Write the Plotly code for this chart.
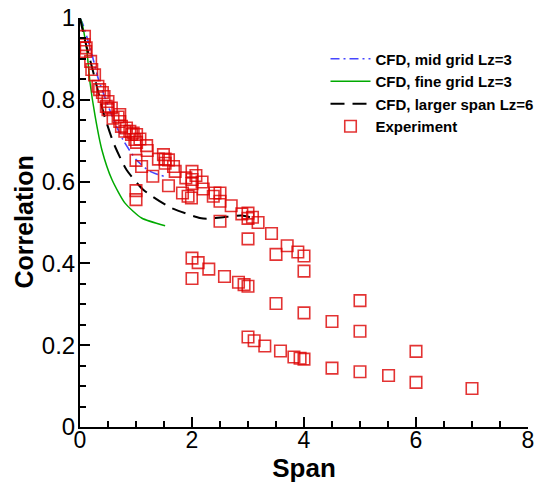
import plotly.graph_objects as go

# CFD, mid grid Lz=3
mid_x = [0.0, 0.05, 0.2, 0.33, 0.6, 0.77, 1.0, 1.25, 1.5]
mid_y = [1.0, 0.985, 0.918, 0.85, 0.751, 0.702, 0.654, 0.625, 0.613]

# CFD, fine grid Lz=3
fine_x = [0.0, 0.03, 0.12, 0.18, 0.27, 0.39, 0.57, 0.8, 1.1, 1.52]
fine_y = [1.0, 0.99, 0.922, 0.841, 0.76, 0.678, 0.605, 0.548, 0.511, 0.492]

# CFD, larger span Lz=6
large_x = [0.0, 0.08, 0.18, 0.3, 0.42, 0.6, 0.83, 1.13, 1.61, 2.14, 2.26, 2.56, 2.89, 3.09]
large_y = [1.0, 0.95, 0.898, 0.833, 0.768, 0.694, 0.629, 0.58, 0.537, 0.511, 0.509, 0.513, 0.517, 0.511]

# Experiment
exp_x = [0.08, 0.07, 0.11, 0.10, 0.19, 0.21, 0.26, 0.32, 0.35, 0.40, 0.43,
         0.50, 0.47, 0.56, 0.50, 0.59, 0.68, 0.71, 0.71, 0.74, 0.83, 0.80,
         0.89, 0.92, 0.95, 1.01, 0.98, 1.01, 1.07, 1.19, 1.20, 1.00, 1.10,
         1.30, 1.00, 1.00, 1.40, 1.49, 1.52, 1.58, 1.52, 1.58, 1.67, 1.70,
         1.83, 1.93, 1.99, 2.00, 1.89, 2.07, 2.00, 2.00, 2.18, 2.20, 2.38,
         2.41, 2.50, 2.50, 2.70, 2.89, 3.00, 3.00, 3.08, 3.18, 2.50, 3.00,
         3.42, 3.50, 3.70, 3.89, 4.00, 4.00, 2.00, 2.11, 2.30, 2.58, 2.83,
         2.93, 3.00, 2.00, 5.00, 3.50, 4.00, 4.50, 5.00, 3.00, 3.11, 3.30,
         3.58, 3.82, 3.93, 4.00, 6.00, 4.50, 5.00, 5.51, 6.00, 7.00]
exp_y = [0.955, 0.935, 0.927, 0.918, 0.894, 0.874, 0.861, 0.833, 0.825, 0.818, 0.808,
         0.796, 0.784, 0.780, 0.776, 0.755, 0.758, 0.747, 0.764, 0.735, 0.731, 0.723,
         0.723, 0.715, 0.719, 0.715, 0.703, 0.696, 0.704, 0.688, 0.676, 0.652, 0.637,
         0.613, 0.578, 0.556, 0.655, 0.666, 0.655, 0.653, 0.645, 0.590, 0.637, 0.625,
         0.572, 0.564, 0.560, 0.625, 0.609, 0.615, 0.605, 0.595, 0.599, 0.582, 0.564,
         0.572, 0.572, 0.552, 0.541, 0.521, 0.523, 0.510, 0.513, 0.500, 0.503, 0.460,
         0.473, 0.422, 0.443, 0.428, 0.418, 0.381, 0.413, 0.402, 0.386, 0.368, 0.354,
         0.348, 0.344, 0.363, 0.309, 0.302, 0.279, 0.258, 0.234, 0.220, 0.211, 0.198,
         0.186, 0.171, 0.168, 0.166, 0.185, 0.144, 0.135, 0.126, 0.109, 0.094]

x_ticks = [0, 2, 4, 6, 8]
y_ticks = [0, 0.2, 0.4, 0.6, 0.8, 1]
y_tick_text = ["0", "0.2", "0.4", "0.6", "0.8", "1"]

FONT = "Liberation Sans, Arial, Helvetica, sans-serif"

fig = go.Figure()
fig.add_trace(go.Scatter(x=mid_x, y=mid_y, mode="lines", name="<b>CFD, mid grid Lz=3</b>",
                         line=dict(color="rgb(70,70,255)", width=1.6, dash="9px,4px,2px,4px", shape="spline", smoothing=0.6)))
fig.add_trace(go.Scatter(x=fine_x, y=fine_y, mode="lines", name="<b>CFD, fine grid Lz=3</b>",
                         line=dict(color="rgb(0,170,0)", width=1.5, shape="spline", smoothing=0.6)))
fig.add_trace(go.Scatter(x=large_x, y=large_y, mode="lines", name="<b>CFD, larger span Lz=6</b>",
                         line=dict(color="black", width=2, dash="14px,8px", shape="spline", smoothing=0.6)))
fig.add_trace(go.Scatter(x=exp_x, y=exp_y, mode="markers", name="<b>Experiment</b>",
                         marker=dict(symbol="square-open", size=11.5, color="rgba(220,0,0,0.8)",
                                     line=dict(width=1.6, color="rgba(220,0,0,0.8)"))))

fig.update_layout(
    width=540, height=479,
    margin=dict(l=72, r=20, t=10, b=60, autoexpand=False),
    paper_bgcolor="white", plot_bgcolor="white",
    font=dict(family=FONT, color="black"),
    showlegend=True,
    legend=dict(x=0.548, y=0.94, xanchor="left", yanchor="top",
                font=dict(size=15, family=FONT, color="black"),
                bgcolor="rgba(0,0,0,0)", tracegroupgap=0, itemwidth=40),
    xaxis=dict(range=[0, 8], tickvals=x_ticks, showgrid=False, zeroline=False, automargin=False,
               showline=True, linecolor="black", linewidth=2,
               ticks="inside", ticklen=10, tickwidth=2, tickcolor="black",
               minor=dict(dtick=0.5, ticks="inside", ticklen=6, tickwidth=1.5, tickcolor="black"),
               tickfont=dict(size=23, family=FONT), ticklabelstandoff=-9, ticklabeloverflow="allow",
               title=dict(text="<b>Span</b>", font=dict(size=26, family=FONT), standoff=0)),
    yaxis=dict(range=[0, 1], tickvals=y_ticks, ticktext=y_tick_text, showgrid=False, zeroline=False,
               automargin=False,
               showline=True, linecolor="black", linewidth=2,
               ticks="inside", ticklen=10, tickwidth=2, tickcolor="black",
               minor=dict(dtick=0.05, ticks="inside", ticklen=6, tickwidth=1.5, tickcolor="black"),
               tickfont=dict(size=24, family=FONT), ticklabelstandoff=-2, ticklabeloverflow="allow"),
    annotations=[dict(text="<b>Correlation</b>", textangle=-90, xref="paper", yref="paper",
                      x=-0.127, y=0.5, xanchor="center", yanchor="middle", showarrow=False,
                      font=dict(size=25, family=FONT, color="black"))],
)

fig.write_html("out.html")
